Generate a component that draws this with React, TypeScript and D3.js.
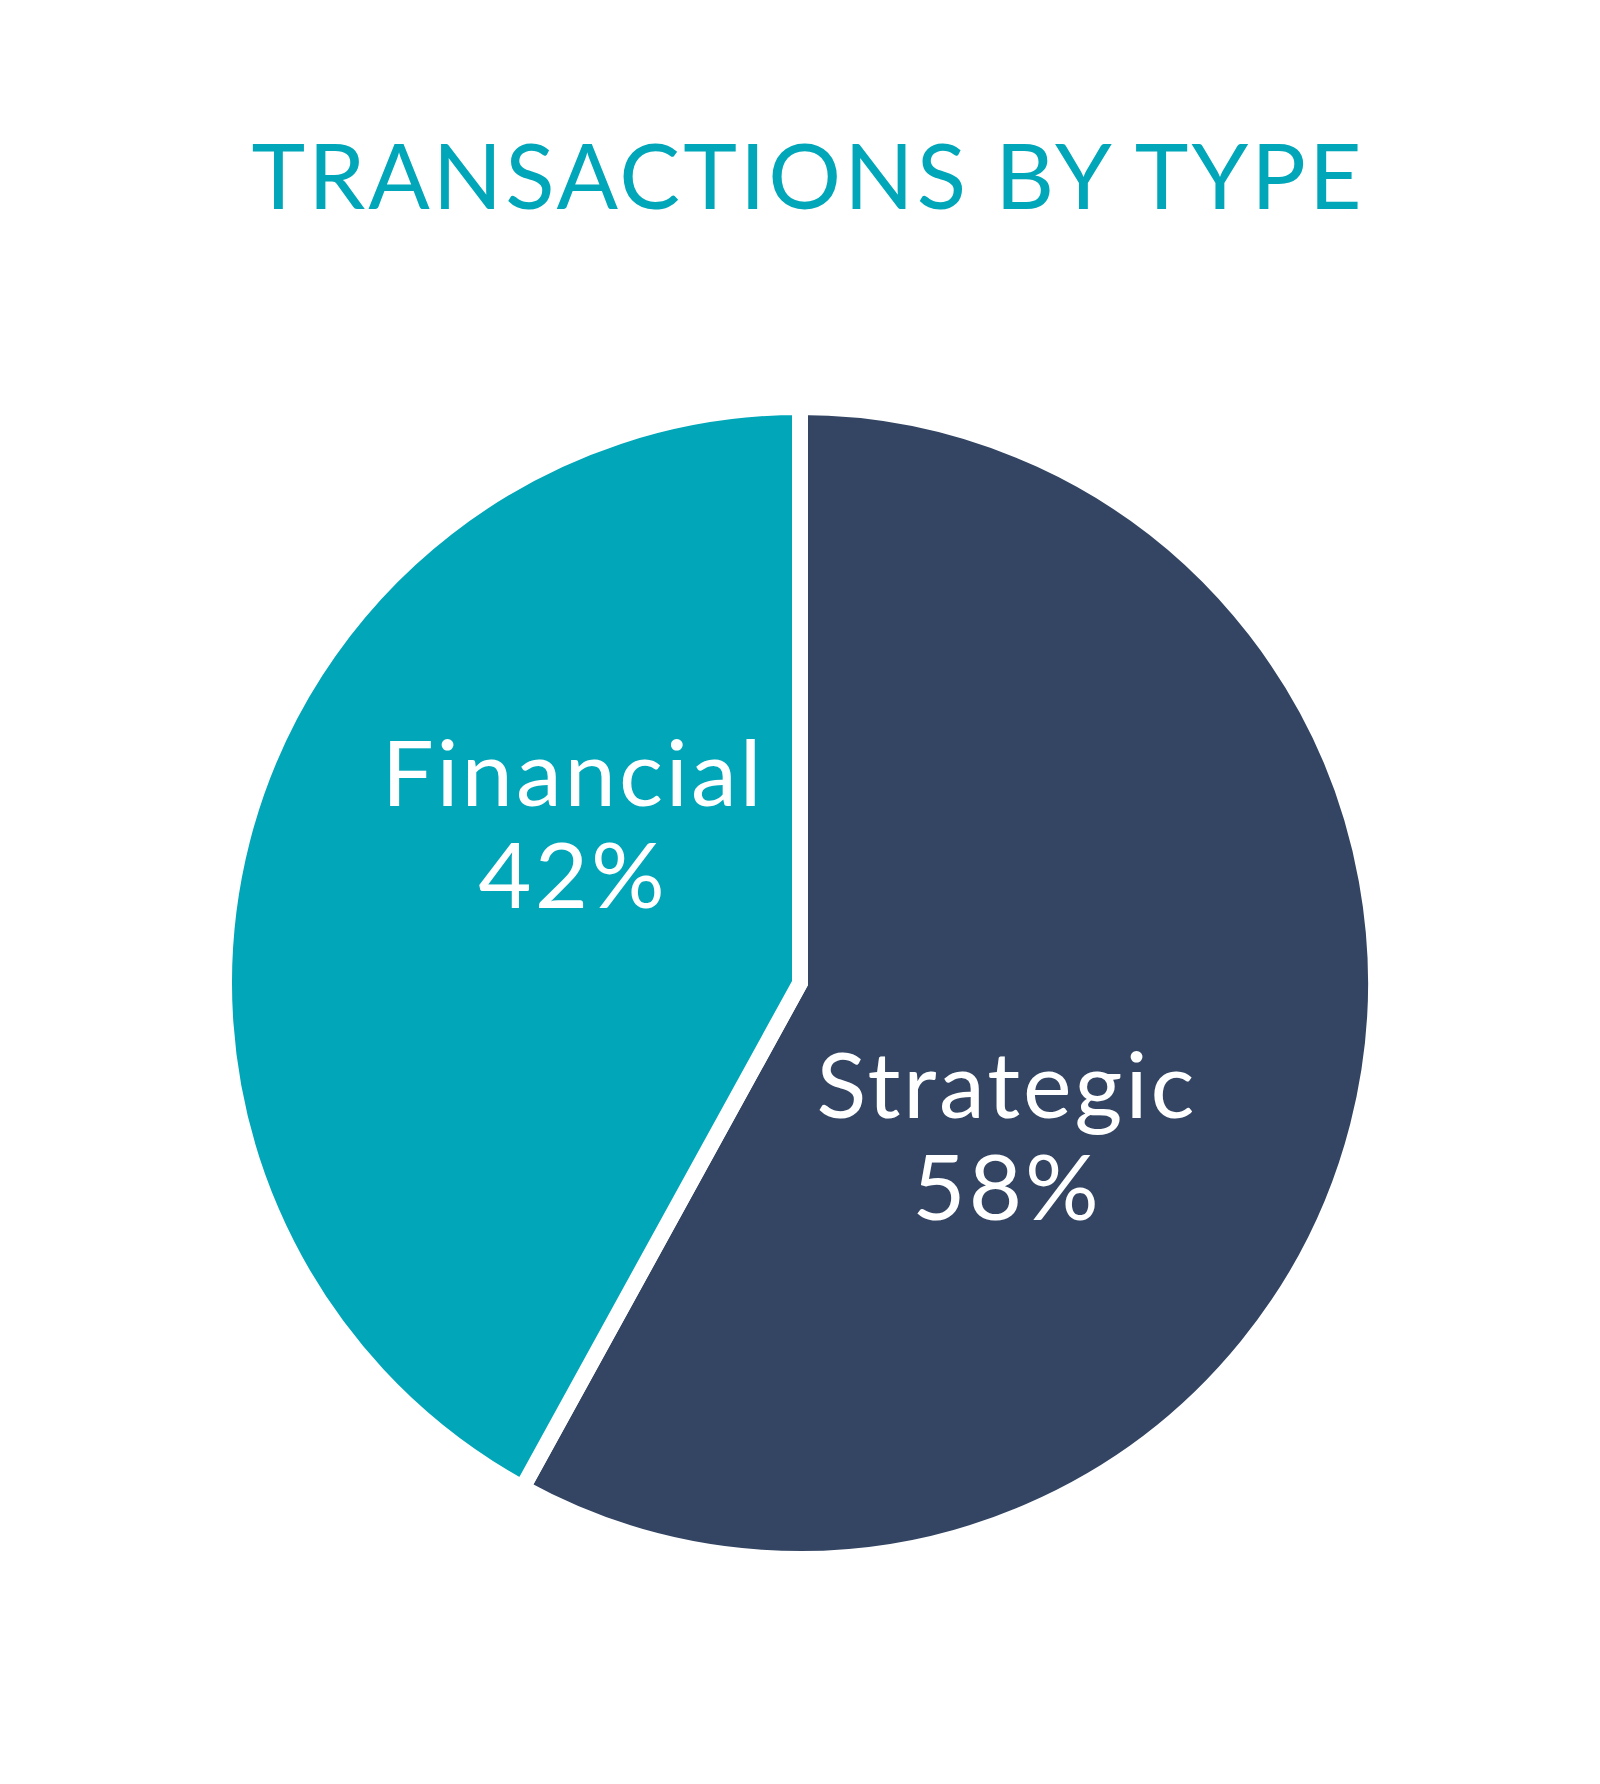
import React from 'react';
import * as d3 from 'd3';

const categories = ['Strategic', 'Financial'];
const shares = [58, 42];
const sliceColors = ['#334563', '#01A7B9'];
const chartTitle = 'TRANSACTIONS BY TYPE';

const WIDTH = 1600;
const HEIGHT = 1784;
const FONT = "Lato, 'Open Sans', sans-serif";

// hand-placed label offsets from pie centre (reference puts them off-centroid)
const labelOffsets: Record<string, [number, number]> = {
  Strategic: [207, 153],
  Financial: [-227, -159],
};

export default function App() {
  const cx = 800;
  const cy = 983;
  const radius = 568;
  const gap = 16;

  const rows = categories.map((name, i) => ({ name, value: shares[i], color: sliceColors[i] }));

  const pie = d3
    .pie<{ name: string; value: number; color: string }>()
    .value((d) => d.value)
    .sort(null);

  const arc = d3
    .arc<d3.PieArcDatum<{ name: string; value: number; color: string }>>()
    .innerRadius(0)
    .outerRadius(radius + gap / 2);

  const arcs = pie(rows);

  return (
    <svg
      width={WIDTH}
      height={HEIGHT}
      style={{ position: 'absolute', left: 0, top: 0, background: '#fff' }}
    >
      <rect width={WIDTH} height={HEIGHT} fill="#fff" />
      <text
        x={cx + 8}
        y={209}
        textAnchor="middle"
        fill="#01A7B9"
        fontFamily={FONT}
        fontSize={91}
        style={{ letterSpacing: '3px' }}
      >
        {chartTitle}
      </text>
      <g transform={`translate(${cx},${cy})`}>
        {arcs.map((a) => (
          <path
            key={a.data.name}
            d={arc(a) || ''}
            fill={a.data.color}
            stroke="#fff"
            strokeWidth={gap}
            strokeLinejoin="miter"
          />
        ))}
        {arcs.map((a) => {
          const [dx, dy] = labelOffsets[a.data.name];
          return (
            <text
              key={`lbl-${a.data.name}`}
              x={dx}
              y={dy}
              textAnchor="middle"
              fill="#fff"
              fontFamily={FONT}
              fontSize={92}
              style={{ letterSpacing: '3px' }}
            >
              <tspan x={dx} dy={-18}>
                {a.data.name}
              </tspan>
              <tspan x={dx} dy={102}>
                {`${a.data.value}%`}
              </tspan>
            </text>
          );
        })}
      </g>
    </svg>
  );
}
